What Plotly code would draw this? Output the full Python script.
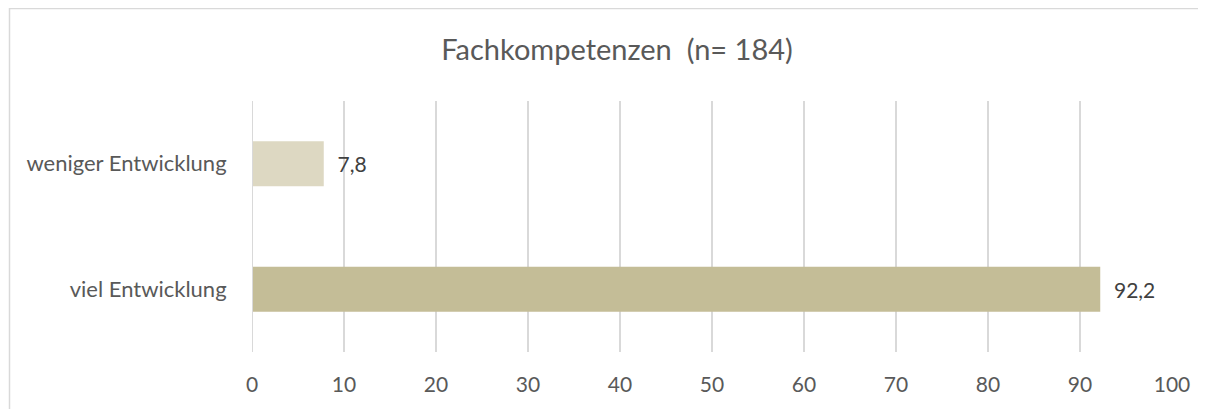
import plotly.graph_objects as go

categories = ["viel Entwicklung", "weniger Entwicklung"]
values = [92.2, 7.8]
labels = ["92,2", "7,8"]
colors = ["#C4BD97", "#DDD8C2"]
tick_vals = [0, 10, 20, 30, 40, 50, 60, 70, 80, 90, 100]

W, H = 1206, 409
OFF = 8  # page body margin
L, R, T, B = 252 - OFF, 34 + OFF, 101 - OFF, 57 + OFF
PW, PH = W - L - R, H - T - B

FONT = "Lato, Open Sans, sans-serif"

fig = go.Figure()
fig.add_trace(go.Bar(
    y=categories, x=values, orientation="h",
    marker=dict(color=colors, line=dict(width=0)),
    text=labels, texttemplate="\u00a0\u00a0%{text}", textposition="outside",
    textfont=dict(size=21, color="#404040", family=FONT),
    cliponaxis=False, hoverinfo="skip",
))

fig.update_layout(
    width=W, height=H,
    margin=dict(l=L, r=R, t=T, b=B, pad=0),
    paper_bgcolor="white", plot_bgcolor="white",
    font=dict(family=FONT, color="#595959"),
    title=dict(text="Fachkompetenzen  (n= 184)", x=(617 - OFF) / W, xanchor="center",
               y=1 - (50 - OFF) / H, yanchor="middle",
               font=dict(size=29, color="#595959")),
    bargap=0.64,
    showlegend=False,
    xaxis=dict(range=[0, 100], tickvals=tick_vals, showgrid=True,
               gridcolor="#D9D9D9", gridwidth=2, zeroline=False,
               showline=False, ticks="outside", ticklen=14,
               tickcolor="rgba(0,0,0,0)", tickfont=dict(size=21, color="#595959"),
               fixedrange=True),
    yaxis=dict(showgrid=False, zeroline=False, showline=False,
               ticks="outside", ticklen=20, tickcolor="rgba(0,0,0,0)",
               tickfont=dict(size=22, color="#595959"), fixedrange=True),
    shapes=[
        dict(type="line", xref="x", yref="paper", x0=0, x1=0, y0=0, y1=1,
             line=dict(color="#D9D9D9", width=2), layer="above"),
        dict(type="rect", xref="paper", yref="paper",
             x0=(1.5 - L) / PW, x1=(W + 20 - L) / PW,
             y0=-(B + 20) / PH, y1=1 + (T - 0.5) / PH,
             line=dict(color="#D9D9D9", width=1.5), fillcolor="rgba(0,0,0,0)",
             layer="below"),
    ],
)

fig.write_html("out.html")
